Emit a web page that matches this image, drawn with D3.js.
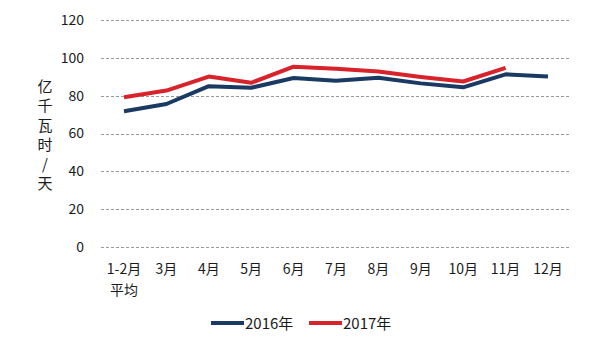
<!DOCTYPE html>
<html>
<head>
<meta charset="utf-8">
<script src="https://cdn.jsdelivr.net/npm/d3@7"></script>
<style>
  html, body { margin: 0; padding: 0; background: #fff; }
  svg { display: block; }
  text { font-family: "Noto Sans CJK SC", "Noto Sans", sans-serif; fill: #1a1a1a; }
</style>
</head>
<body>
<svg id="chart" width="592" height="343"></svg>
<script>
// Daily electricity consumption by month (亿千瓦时/天)
const categories = ["1-2月\n平均", "3月", "4月", "5月", "6月", "7月", "8月", "9月", "10月", "11月", "12月"];
const values2016 = [71.8, 75.6, 85.0, 84.2, 89.3, 87.9, 89.5, 86.5, 84.4, 91.3, 90.1];
const values2017 = [79.2, 82.7, 90.1, 86.8, 95.3, 94.2, 92.8, 89.9, 87.5, 94.7];
const yTicks = [0, 20, 40, 60, 80, 100, 120];
const seriesNames = ["2016年", "2017年"];
const seriesColors = ["#1b3a63", "#d8232a"];
const yTitle = ["亿", "千", "瓦", "时", "/", "天"];

const svg = d3.select("#chart");

const x = d3.scaleBand().domain(categories).range([102.8, 569.2]);
const y = d3.scaleLinear().domain([0, 120]).range([247, 20]);

// dashed horizontal gridlines
svg.append("g")
  .selectAll("line")
  .data(yTicks)
  .join("line")
  .attr("x1", 101).attr("x2", 569)
  .attr("y1", d => Math.round(y(d)) + 0.5)
  .attr("y2", d => Math.round(y(d)) + 0.5)
  .attr("stroke", "#9a9a9a")
  .attr("stroke-width", 1)
  .attr("stroke-dasharray", "3,2");

// y tick labels
const yAxis = d3.axisLeft(y).tickValues(yTicks).tickSize(0).tickPadding(0);
const gy = svg.append("g").attr("transform", "translate(84,0)").call(yAxis);
gy.select(".domain").remove();
gy.selectAll("text")
  .attr("font-size", 14)
  .attr("fill", "#1a1a1a")
  .attr("font-family", "\"Noto Sans CJK SC\", \"Noto Sans\", sans-serif");

// x tick labels (two lines for the first category)
const gx = svg.append("g");
categories.forEach(c => {
  const lines = c.split("\n");
  const t = gx.append("text")
    .attr("x", x(c) + x.bandwidth() / 2)
    .attr("y", 274)
    .attr("text-anchor", "middle")
    .attr("font-size", 14);
  lines.forEach((ln, i) => {
    t.append("tspan")
      .attr("x", x(c) + x.bandwidth() / 2)
      .attr("dy", i === 0 ? 0 : 21)
      .text(ln);
  });
});

// vertical y-axis title
svg.append("g")
  .selectAll("text")
  .data(yTitle)
  .join("text")
  .attr("x", 45)
  .attr("y", (d, i) => 92 + i * 19.4)
  .attr("text-anchor", "middle")
  .attr("font-size", 15)
  .text(d => d);

// series lines
const line = d3.line()
  .x((d, i) => x(categories[i]) + x.bandwidth() / 2)
  .y(d => y(d));

[values2016, values2017].forEach((vals, k) => {
  svg.append("path")
    .datum(vals)
    .attr("fill", "none")
    .attr("stroke", seriesColors[k])
    .attr("stroke-width", 4)
    .attr("stroke-linejoin", "round")
    .attr("d", line);
});

// legend
const legendX = [211, 309];
seriesNames.forEach((name, k) => {
  const g = svg.append("g").attr("transform", `translate(${legendX[k]},323)`);
  g.append("line")
    .attr("x1", 0).attr("x2", 33)
    .attr("y1", 0).attr("y2", 0)
    .attr("stroke", seriesColors[k])
    .attr("stroke-width", 4);
  g.append("text")
    .attr("x", 34)
    .attr("y", 5.5)
    .attr("font-size", 15)
    .text(name);
});
</script>
</body>
</html>
